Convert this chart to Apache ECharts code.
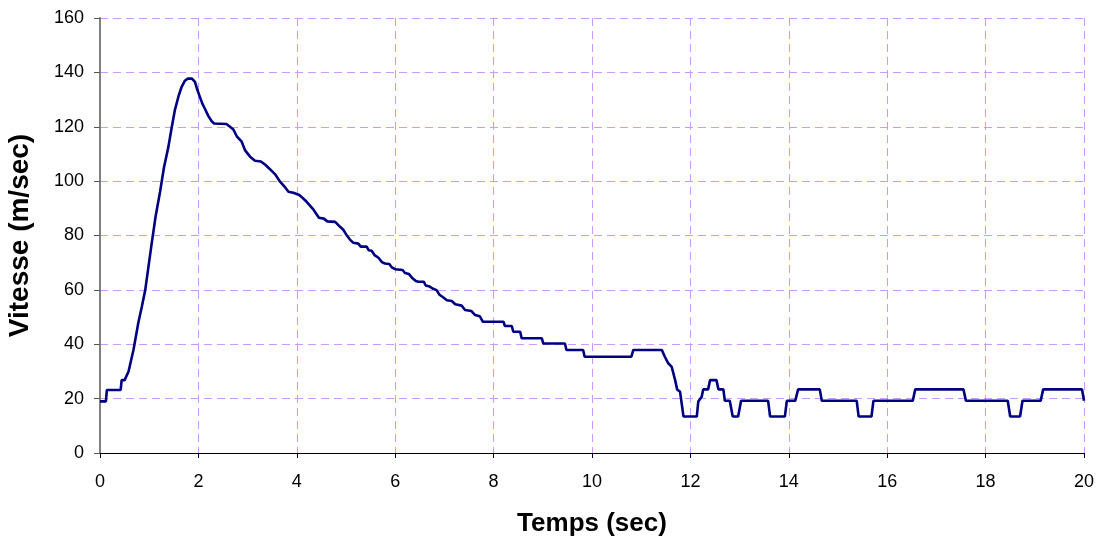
<!DOCTYPE html>
<html>
<head>
<meta charset="utf-8">
<script src="https://cdn.jsdelivr.net/npm/echarts@6/dist/echarts.min.js"></script>
<style>
html,body{margin:0;padding:0;background:#fff;}
#chart{width:1099px;height:541px;}
</style>
</head>
<body>
<div id="chart"></div>
<script>
// Time (sec) samples
const timeSec = [0,0.12,0.14,0.42,0.44,0.5,0.58,0.68,0.78,0.85,0.92,1.05,1.13,1.22,1.30,1.39,1.46,1.52,1.60,1.66,1.72,1.78,1.87,1.93,1.98,2.03,2.08,2.13,2.20,2.27,2.32,2.57,2.63,2.71,2.78,2.88,2.95,3.05,3.15,3.27,3.36,3.46,3.56,3.66,3.75,3.83,3.93,4.05,4.12,4.20,4.34,
  4.45,4.55,4.62,4.78,4.88,4.95,5.0,5.08,5.15,5.25,5.30,5.42,5.46,5.52,5.58,5.66,5.73,5.79,5.88,5.93,6.0,6.15,6.20,6.28,6.34,6.42,6.47,6.58,6.62,6.70,6.76,6.84,6.90,6.98,7.05,7.15,7.22,7.35,7.42,7.55,7.62,7.72,7.78,
  8.20,8.23,8.37,8.40,8.54,8.57,8.98,9.01,9.45,9.48,9.82,9.85,10.80,10.84,11.42,11.48,11.55,11.62,11.69,11.73,11.79,11.86,12.13,12.16,12.23,12.26,12.36,12.40,12.53,12.57,12.67,12.70,12.80,12.86,12.97,13.03,13.58,13.62,13.92,13.96,14.13,14.19,14.63,14.67,15.38,15.42,15.68,15.72,16.52,16.57,17.55,17.60,18.45,18.50,18.70,18.75,19.12,19.17,19.96,20];
// Speed (m/sec) values
const vitesse = [19,19,23.2,23.2,26.8,26.8,30,37.9,48,53.8,60,77,87,96,105,112.6,120,126,131.5,134.7,136.8,137.7,137.7,136.5,133.5,131,128.5,126.7,124,122,121.2,121,120.2,119,116.5,114.5,111.3,109,107.5,107.2,106,104.3,102.5,99.8,98,96.1,95.7,94.9,93.8,92.4,89.5,
  86.5,86.2,85.2,85,83.2,82,80.5,78.5,77.3,77.0,75.9,75.9,74.6,74.4,72.8,71.8,70.2,69.7,69.5,68.3,67.6,67.3,66.2,65.8,64.5,63.3,63,63,61.6,61.2,60.5,59.9,58.2,57.2,56.2,55.9,54.7,54.2,52.6,52.2,50.8,50.3,48.3,
  48.3,46.7,46.7,44.6,44.6,42.2,42.2,40.3,40.3,37.9,37.9,35.4,35.4,37.9,37.9,35.4,33,31.7,26.8,23.4,22.5,13.4,13.4,18.9,20.7,23.4,23.4,26.8,26.8,23.4,23.4,19.2,19.2,13.4,13.4,19.2,19.2,13.4,13.4,19.2,19.2,23.4,23.4,19.2,19.2,13.4,13.4,19.2,19.2,23.4,23.4,19.2,19.2,13.4,13.4,19.2,19.2,23.4,23.4,19.2];
const xTicks = [0,2,4,6,8,10,12,14,16,18,20];
const yTicks = [0,20,40,60,80,100,120,140,160];
const xTitle = 'Temps (sec)';
const yTitle = 'Vitesse (m/sec)';

const points = timeSec.map((t, i) => [t, vitesse[i]]);
const gridStyle = {show: true, lineStyle: {color: '#CC99FF', width: 1, type: [8, 5]}};
const chart = echarts.init(document.getElementById('chart'), null, {renderer: 'canvas'});
chart.setOption({
  animation: false,
  backgroundColor: '#ffffff',
  grid: {left: 100, right: 15, top: 18, bottom: 88, containLabel: false, outerBoundsMode: 'none'},
  xAxis: {
    type: 'value', min: xTicks[0], max: xTicks[xTicks.length - 1], interval: 2,
    name: xTitle, nameLocation: 'middle', nameGap: 58,
    nameTextStyle: {fontFamily: 'Liberation Sans, Arial', fontWeight: 'bold', fontSize: 26, color: '#000'},
    axisLine: {show: true, onZero: false, lineStyle: {color: '#000', width: 1}},
    axisTick: {show: true, length: 5, lineStyle: {color: '#000'}},
    axisLabel: {fontFamily: 'Liberation Sans, Arial', fontSize: 18, color: '#000', margin: 20},
    splitLine: gridStyle
  },
  yAxis: {
    type: 'value', min: yTicks[0], max: yTicks[yTicks.length - 1], interval: 20,
    name: yTitle, nameLocation: 'middle', nameGap: 66, nameRotate: 90,
    nameTextStyle: {fontFamily: 'Liberation Sans, Arial', fontWeight: 'bold', fontSize: 28, color: '#000'},
    axisLine: {show: true, lineStyle: {color: '#808080', width: 2}},
    axisTick: {show: true, inside: false, length: 6, lineStyle: {color: '#555'}},
    axisLabel: {fontFamily: 'Liberation Sans, Arial', fontSize: 18, color: '#000', margin: 16},
    splitLine: gridStyle
  },
  series: [{
    type: 'line', data: points, showSymbol: false, smooth: false,
    lineStyle: {color: '#000080', width: 2.6},
    z: 5
  }]
});
</script>
</body>
</html>
